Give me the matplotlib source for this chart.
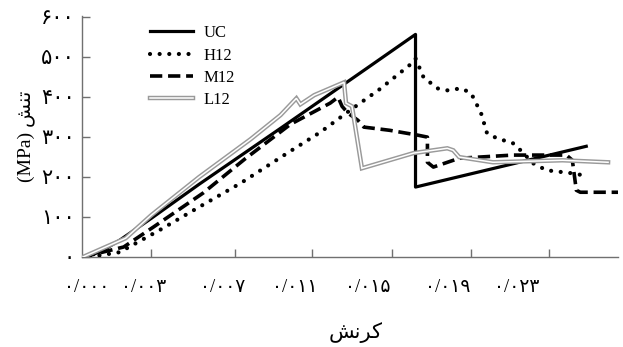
import matplotlib
matplotlib.use("Agg")
import matplotlib.pyplot as plt
from matplotlib.ticker import FixedLocator, NullFormatter, FixedFormatter

plt.rcParams['font.family'] = ['Liberation Serif', 'DejaVu Sans']

# strain (-) and stress (MPa)
uc_strain = [0.00005, 0.0009, 0.0019, 0.0035, 0.0059, 0.0100, 0.0142, 0.0168, 0.0168, 0.0254]
uc_stress = [0, 12, 42, 97, 182, 322, 467, 557, 175, 277]

h12_strain = [0.0004, 0.0019, 0.0039, 0.0059, 0.0080, 0.0105, 0.0120, 0.0135, 0.0150,
              0.0165, 0.0168, 0.0172, 0.0179, 0.0184, 0.0191, 0.0196, 0.0201, 0.0204,
              0.0209, 0.0217, 0.0222, 0.0227, 0.0234, 0.0246, 0.0252]
h12_stress = [0, 12, 67, 125, 185, 265, 312, 367, 420,
              480, 497, 450, 422, 417, 422, 410, 360, 310,
              297, 285, 262, 235, 217, 210, 205]

m12_strain = [0.00005, 0.0021, 0.0036, 0.0061, 0.0082, 0.0105, 0.0125, 0.0129, 0.0131,
              0.0134, 0.0139, 0.0142, 0.0155, 0.0169, 0.0174, 0.0174, 0.0177, 0.0190,
              0.0217, 0.0244, 0.0247, 0.0249, 0.0251, 0.0270]
m12_stress = [0, 25, 75, 160, 245, 332, 385, 400, 377,
              360, 342, 325, 317, 305, 300, 237, 225, 247,
              255, 255, 242, 167, 162, 162]

l12_strain = [0.00005, 0.0022, 0.0035, 0.0059, 0.0085, 0.0100, 0.0108, 0.0110, 0.0117,
              0.0132, 0.0133, 0.0136, 0.0141, 0.0167, 0.0184, 0.0187, 0.0190, 0.0207,
              0.0242, 0.0265]
l12_stress = [0, 47, 105, 200, 295, 355, 397, 382, 405,
              437, 385, 377, 222, 260, 272, 267, 250, 237,
              242, 237]

fa_digits = str.maketrans('0123456789', '۰۱۲۳۴۵۶۷۸۹')
y_ticks = [0, 100, 200, 300, 400, 500, 600]
x_tick_labels = ['0/000', '0/003', '0/007', '0/011', '0/015', '0/019', '0/023']
x_label_pos = [0.00025, 0.0031, 0.0071, 0.0107, 0.0144, 0.0184, 0.0219]
x_tick_pos = [0.0035, 0.0077, 0.0116, 0.0156, 0.0196, 0.0235]

fig = plt.figure(figsize=(6.23, 3.47), dpi=100)
ax = fig.add_axes([0.1316, 0.2594, 0.8604, 0.6956])

uc, = ax.plot(uc_strain, uc_stress, color='black', lw=2.3, zorder=3)
h12, = ax.plot(h12_strain, h12_stress, color='black', lw=3.0,
               linestyle=(0, (0.01, 2.3)), dash_capstyle='round', zorder=4)
m12, = ax.plot(m12_strain, m12_stress, color='black', lw=2.6,
               linestyle=(0, (3.4, 1.6)), zorder=3)
l12a, = ax.plot(l12_strain, l12_stress, color='#9a9a9a', lw=3.2, zorder=5,
                solid_joinstyle='miter')
l12b, = ax.plot(l12_strain, l12_stress, color='white', lw=1.1, zorder=6,
                solid_joinstyle='miter')

ax.set_xlim(0, 0.027)
ax.set_ylim(0, 604)

for s in ['top', 'right']:
    ax.spines[s].set_visible(False)
for s in ['left', 'bottom']:
    ax.spines[s].set_color('#707070')
    ax.spines[s].set_linewidth(1.0)

ax.xaxis.set_major_locator(FixedLocator(x_tick_pos))
ax.xaxis.set_major_formatter(NullFormatter())
ax.xaxis.set_minor_locator(FixedLocator(x_label_pos))
ax.xaxis.set_minor_formatter(FixedFormatter([t.translate(fa_digits) for t in x_tick_labels]))
ax.tick_params(axis='x', which='major', direction='in', length=6, width=1, color='#707070')
ax.tick_params(axis='x', which='minor', length=0, pad=16, labelsize=13.5)

ax.set_yticks(y_ticks)
ax.set_yticklabels([str(v).translate(fa_digits) for v in y_ticks])
ax.tick_params(axis='y', direction='in', length=6, width=1, color='#707070', pad=5, labelsize=15)

# Persian labels written in presentation forms, visual order: تنش / کرنش
ax.set_ylabel('(MPa) \ufeb6\ufee8\ufe97', fontsize=14)
ax.yaxis.set_label_coords(-0.088, 0.5)
ax.set_xlabel('\ufeb6\ufee7\ufeae\ufb90', fontsize=15)
ax.xaxis.set_label_coords(0.51, -0.27)

ax.legend([uc, h12, m12, (l12a, l12b)], ['UC', 'H12', 'M12', 'L12'],
          loc='upper left', bbox_to_anchor=(0.127, 0.96), frameon=False,
          fontsize=12, handlelength=2.6, handletextpad=0.6, labelspacing=0.38,
          borderpad=0, borderaxespad=0)

fig.savefig('out.png', dpi=100)
